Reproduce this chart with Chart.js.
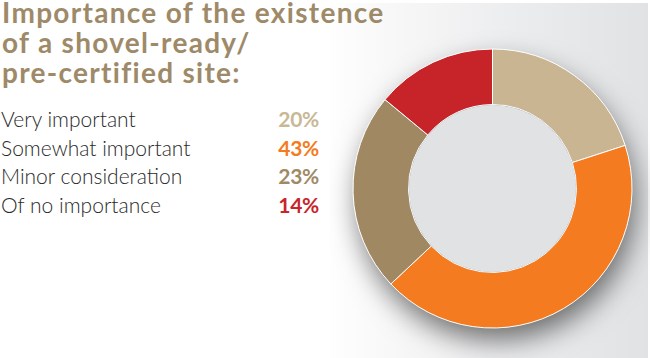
<!DOCTYPE html>
<html>
<head>
<meta charset="utf-8">
<script src="https://cdn.jsdelivr.net/npm/chart.js@4"></script>
<style>
  html,body{margin:0;padding:0;background:#fff;}
  body{width:650px;height:358px;position:relative;overflow:hidden;font-family:Lato,"Open Sans",sans-serif;}
  #panel{position:absolute;left:330px;top:3px;width:318px;height:355px;
    background:linear-gradient(to right,#fefefe 0%,#f6f6f7 25%,#ebeced 60%,#e1e2e4 100%);}
  #title{position:absolute;left:2px;top:-3px;margin:0;color:#9e8a68;font-weight:700;font-size:28px;line-height:30px;letter-spacing:1.3px;white-space:nowrap;}
  #list{position:absolute;left:1px;top:105px;}
  .row{position:relative;height:28.5px;line-height:28.5px;font-size:21px;font-weight:300;color:#2a2a2a;width:320px;white-space:nowrap;}
  .pct{position:absolute;right:2px;top:0;font-weight:700;letter-spacing:-0.3px;}
  #wrap{position:absolute;left:330px;top:0;width:320px;height:358px;}
</style>
</head>
<body>
<div id="panel"></div>
<h1 id="title">Importance of the existence<br>of a shovel-ready/<br>pre-certified site:</h1>
<div id="list"></div>
<div id="wrap"><canvas id="c" width="320" height="358"></canvas></div>
<script>
const categories = ["Very important","Somewhat important","Minor consideration","Of no importance"];
const values = [20,43,23,14];
const sliceColors = ["#cab593","#f47b20","#a08862","#c62428"];
const labelColors = ["#c8b896","#f47b20","#a08a66","#c8242c"];

const list = document.getElementById('list');
categories.forEach((c,i)=>{
  const r=document.createElement('div');r.className='row';r.textContent=c;
  const p=document.createElement('span');p.className='pct';p.style.color=labelColors[i];p.textContent=values[i]+'%';
  r.appendChild(p);list.appendChild(r);
});

const decor = {
  id:'decor',
  beforeDatasetsDraw(chart){
    const a=chart.getDatasetMeta(0).data[0];
    const ctx=chart.ctx;ctx.save();
    ctx.shadowColor='rgba(0,0,0,0.55)';ctx.shadowBlur=28;ctx.shadowOffsetX=4;ctx.shadowOffsetY=13;
    ctx.beginPath();ctx.arc(a.x,a.y,a.outerRadius-1,0,Math.PI*2);ctx.fillStyle='#999';ctx.fill();
    ctx.restore();
  },
  afterDatasetsDraw(chart){
    const a=chart.getDatasetMeta(0).data[0];
    const ctx=chart.ctx;ctx.save();
    ctx.beginPath();ctx.arc(a.x,a.y,a.innerRadius-0.5,0,Math.PI*2);ctx.fillStyle='#e1e2e4';ctx.fill();
    ctx.restore();
  }
};

new Chart(document.getElementById('c'),{
  type:'doughnut',
  data:{labels:categories,datasets:[{data:values,backgroundColor:sliceColors,borderColor:'#ffffff',borderWidth:1}]},
  options:{
    responsive:false,animation:false,
    radius:139.5,cutout:94.5,
    layout:{padding:{left:5,right:0,top:19,bottom:0}},
    plugins:{legend:{display:false},tooltip:{enabled:false}}
  },
  plugins:[decor]
});
</script>
</body>
</html>
